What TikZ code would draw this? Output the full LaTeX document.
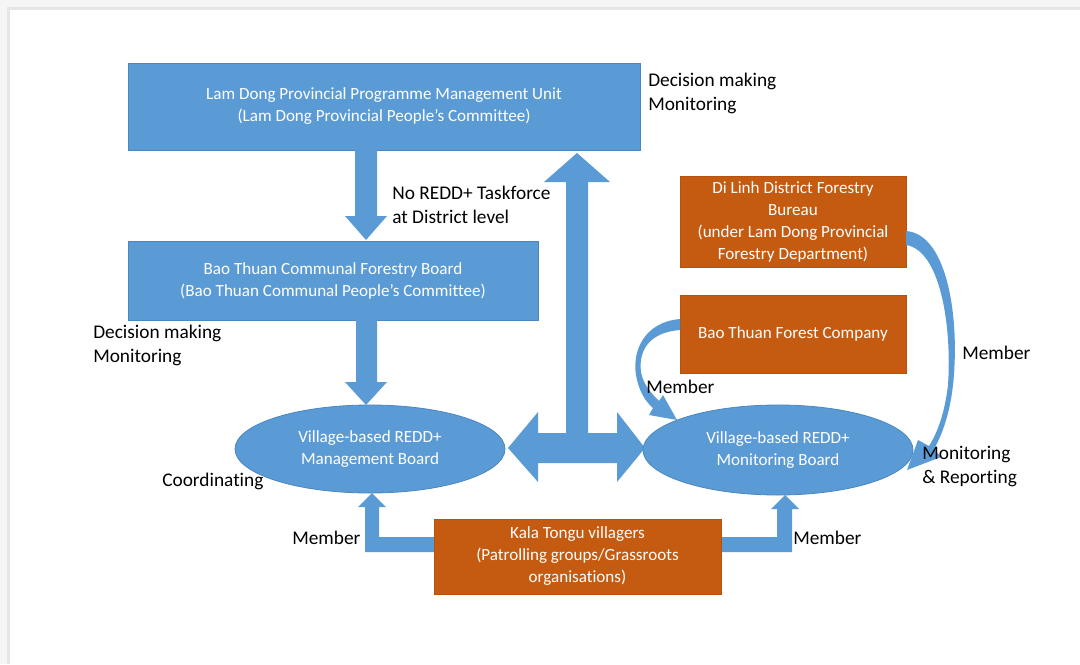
\documentclass[tikz,border=0pt]{standalone}
\usepackage{fontspec}
\setmainfont[Ligatures=NoCommon]{Carlito}
\usetikzlibrary{shapes.geometric}
\definecolor{bblue}{HTML}{5B9BD5}
\definecolor{bblueedge}{HTML}{4A86C0}
\definecolor{borange}{HTML}{C55A11}
\definecolor{borangeedge}{HTML}{B5520F}
\begin{document}
\begin{tikzpicture}[x=0.75pt,y=-0.75pt,
  boxtext/.style={font=\fontsize{12.8}{16.5}\selectfont, text=white, align=center, inner sep=0pt},
  bluebox/.style={boxtext, fill=bblue, draw=bblueedge, line width=0.6pt},
  orangebox/.style={boxtext, fill=borange, draw=borangeedge, line width=0.6pt},
  blueell/.style={boxtext, ellipse, fill=bblue, draw=bblueedge, line width=0.6pt},
  lbl/.style={font=\fontsize{14.5}{18}\selectfont, text=black, align=left, inner sep=0pt, anchor=west},
  blockarrow/.style={fill=bblue, draw=none}
]
\useasboundingbox (0,0) rectangle (1080,664);
% page background
\fill[black!4] (0,0) rectangle (1080,664);
\fill[black!10] (7,7) rectangle (1080,664);
\fill[white] (10,10) rectangle (1080,664);

% nodes
\node[bluebox, minimum width=384pt, minimum height=65.25pt] (ppmu) at (384,106.5)
  {Lam Dong Provincial Programme Management Unit\\(Lam Dong Provincial People’s Committee)};
\node[bluebox, minimum width=307.5pt, minimum height=59.25pt] (cfb) at (333,280.5)
  {Bao Thuan Communal Forestry Board\\(Bao Thuan Communal People’s Committee)};
\node[orangebox, minimum width=169.5pt, minimum height=68.25pt] (dilinh) at (793,221.5)
  {Di Linh District Forestry\\Bureau\\(under Lam Dong Provincial\\Forestry Department)};
\node[orangebox, minimum width=169.5pt, minimum height=58.5pt] (company) at (793,334)
  {Bao Thuan Forest Company};

% block arrows
\fill[blockarrow] (355,150) -- (377,150) -- (377,216) -- (387,216) -- (366,240) -- (345,216) -- (355,216) -- cycle;
\fill[blockarrow] (356,320) -- (377,320) -- (377,382) -- (387,382) -- (366,405) -- (345,382) -- (356,382) -- cycle;
\fill[blockarrow] (577,153) -- (610,182) -- (588,182) -- (588,433) -- (617,433) -- (617,412) -- (645,448)
  -- (617,482) -- (617,463) -- (538,463) -- (538,482) -- (508,448) -- (538,412) -- (538,433)
  -- (566,433) -- (566,182) -- (544,182) -- cycle;
\fill[blockarrow] (434,537) -- (379,537) -- (379,507) -- (386,507) -- (372,493) -- (358,507) -- (365,507) -- (365,552) -- (434,552) -- cycle;
\fill[blockarrow] (721,537) -- (777,537) -- (777,509) -- (771,509) -- (785,495) -- (799,509) -- (792,509) -- (792,552) -- (721,552) -- cycle;

\node[blueell, minimum width=202.5pt, minimum height=66pt] (mgmt) at (370,449)
  {Village-based REDD+\\Management Board};
\node[blueell, minimum width=202.5pt, minimum height=67.5pt] (mon) at (778,450)
  {Village-based REDD+\\Monitoring Board};
\node[orangebox, minimum width=215.25pt, minimum height=56.25pt] (kala) at (577.5,556.5)
  {Kala Tongu villagers\\(Patrolling groups/Grassroots\\organisations)};

% curved arrows (tapered)
\fill[bblue] (906,231) .. controls (948,234) and (960,320) .. (953,385)
  .. controls (950,412) and (943,433) .. (934,449)
  -- (941,457) -- (907,470) -- (918,440) -- (929,446)
  .. controls (939,430) and (945,410) .. (948,385)
  .. controls (952,325) and (940,250) .. (906,245) -- cycle;
\fill[bblue] (680,319) .. controls (645,322) and (632,350) .. (636,375)
  .. controls (639,392) and (646,402) .. (653,408)
  -- (649,415) -- (677,420) -- (663,395) -- (659,401)
  .. controls (651,393) and (643,384) .. (641,372)
  .. controls (638,348) and (652,332) .. (680,330) -- cycle;

% labels
\node[lbl] (l1) at (648,93) {Decision making\\Monitoring};
\node[lbl] (l2) at (392,204.5) {No REDD+ Taskforce\\at District level};
\node[lbl] (l3) at (93,345) {Decision making\\Monitoring};
\node[lbl] (l4) at (162,481) {Coordinating};
\node[lbl] (l5) at (292,538) {Member};
\node[lbl] (l6) at (646,387) {Member};
\node[lbl] (l7) at (962,353) {Member};
\node[lbl] (l8) at (922,467) {Monitoring\\\&~Reporting};
\node[lbl] (l9) at (793,538) {Member};
\end{tikzpicture}
\end{document}
